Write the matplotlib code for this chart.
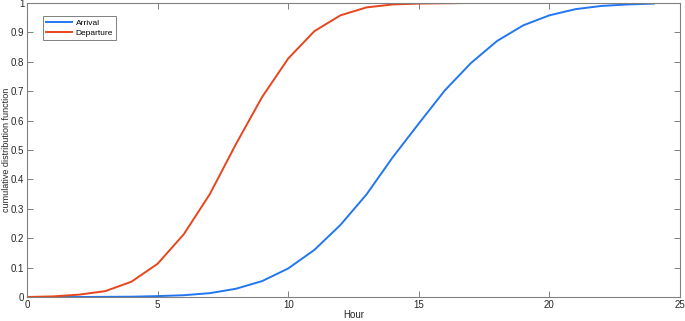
import numpy as np
import matplotlib.pyplot as plt

# data
hours = np.arange(0, 25)
arrival = [0.0, 0.0, 0.0, 0.0005, 0.001, 0.003, 0.006, 0.013, 0.028, 0.054,
           0.097, 0.16, 0.245, 0.349, 0.475, 0.59, 0.703, 0.796, 0.871, 0.924,
           0.958, 0.979, 0.99, 0.995, 0.998]
departure = [0.0, 0.002, 0.008, 0.02, 0.052, 0.113, 0.213, 0.35, 0.52, 0.68,
             0.811, 0.904, 0.958, 0.985, 0.995, 0.998, 0.999, 1.0, 1.0, 1.0,
             1.0, 1.0, 1.0, 1.0, 1.0]

plt.rcParams['font.family'] = ['Liberation Sans', 'DejaVu Sans']

fig = plt.figure(figsize=(6.85, 3.21), dpi=100)
ax = fig.add_axes([0.0394, 0.0748, 0.9533, 0.9159])

ax.plot(hours, arrival, color='#2277f0', lw=1.4, label='Arrival')
ax.plot(hours, departure, color='#e8451d', lw=1.4, label='Departure')

ax.set_xlim(0, 25)
ax.set_ylim(0, 1)
ax.set_xticks(np.arange(0, 26, 5))
ax.set_yticks(np.arange(0, 1.01, 0.1))
ax.set_yticklabels(['0', '0.1', '0.2', '0.3', '0.4', '0.5', '0.6', '0.7', '0.8', '0.9', '1'])
ax.tick_params(direction='in', top=True, right=True, labelsize=7,
               color='#808080', labelcolor='#262626', length=4, width=0.7, pad=2)
for s in ax.spines.values():
    s.set_color('#808080')
    s.set_linewidth(0.8)

ax.set_xlabel('Hour', fontsize=7, labelpad=0, color='#262626')
ax.set_ylabel('cumulative distribution function', fontsize=6.5, labelpad=0,
              color='#262626')

leg = ax.legend(loc='upper left', bbox_to_anchor=(0.018, 0.97), fontsize=6,
                fancybox=False, framealpha=1, edgecolor='#808080',
                handlelength=3.2, handletextpad=0.4, borderpad=0.35,
                labelspacing=0.25)
leg.get_frame().set_linewidth(0.7)

plt.savefig('out.png', dpi=100)
plt.close()
